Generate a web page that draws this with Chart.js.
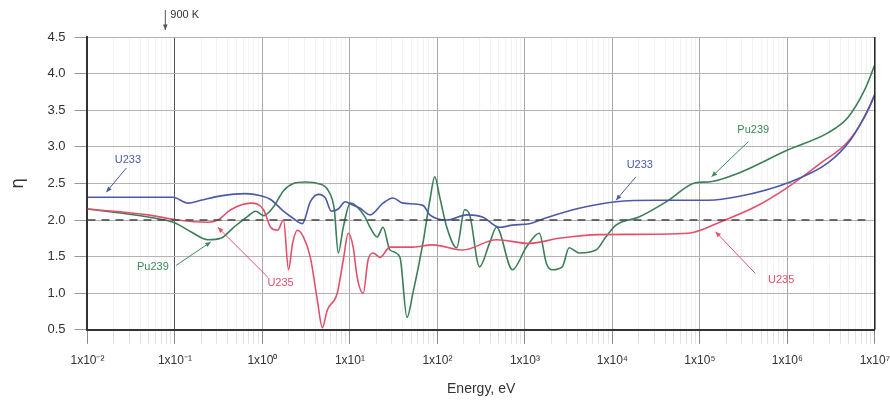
<!DOCTYPE html>
<html>
<head>
<meta charset="utf-8">
<script src="https://cdn.jsdelivr.net/npm/chart.js@4.4.0/dist/chart.umd.min.js"></script>
<style>
  html, body { margin: 0; padding: 0; background: #fff; overflow: hidden; }
  #wrap { width: 900px; height: 400px; }
</style>
</head>
<body>
<div id="wrap"><canvas id="etaChart"></canvas></div>
<script>
// energy axis, decades and their labels
var decadeTicks = [1e-2, 1e-1, 1e0, 1e1, 1e2, 1e3, 1e4, 1e5, 1e6, 1e7];
var decadeLabels = ["1x10⁻²", "1x10⁻¹", "1x10⁰", "1x10¹", "1x10²", "1x10³", "1x10⁴", "1x10⁵", "1x10⁶", "1x10⁷"];
var etaTicks = [0.5, 1.0, 1.5, 2.0, 2.5, 3.0, 3.5, 4.0, 4.5];

// U233 (blue)
var u233Energy = [0.01, 0.095, 0.141, 0.198, 0.334, 0.644, 0.955, 1.24, 1.74, 2.26, 2.86, 3.53, 4.36, 5.24, 6.12, 7.36, 8.85, 10.1, 13.1, 17.0, 23.9, 31.1, 40.4, 68.2, 82, 128, 216, 328, 513, 721, 1125, 1758, 4169, 11000, 33900, 125600, 275000, 1.02e6, 2.91e6, 5.32e6, 8.3e6, 1e7];
var u233Eta = [2.31, 2.31, 2.23, 2.27, 2.33, 2.36, 2.33, 2.28, 2.12, 2.02, 1.95, 2.25, 2.35, 2.30, 2.12, 2.15, 2.25, 2.22, 2.16, 2.07, 2.23, 2.30, 2.23, 2.20, 2.07, 2.00, 2.07, 2.04, 1.90, 1.93, 1.95, 2.03, 2.16, 2.25, 2.27, 2.27, 2.32, 2.51, 2.78, 3.10, 3.50, 3.72];

// U235 (red)
var u235Energy = [0.01, 0.0494, 0.108, 0.238, 0.309, 0.434, 0.735, 1.03, 1.24, 1.49, 1.74, 1.99, 2.21, 2.51, 2.94, 3.53, 4.25, 4.84, 5.52, 7.16, 8.39, 9.57, 10.9, 12.1, 14.2, 16.1, 18.4, 22.1, 28.7, 52.5, 88.7, 195, 474, 1125, 2466, 7047, 74300, 176600, 430000, 1.02e6, 2.43e6, 4.92e6, 7.67e6, 1e7];
var u235Eta = [2.15, 2.07, 2.00, 1.97, 2.00, 2.14, 2.23, 2.14, 1.90, 1.86, 2.00, 1.32, 1.68, 1.86, 1.77, 1.49, 0.90, 0.53, 0.77, 1.00, 1.45, 1.82, 1.63, 1.22, 1.00, 1.45, 1.55, 1.49, 1.63, 1.63, 1.66, 1.59, 1.73, 1.68, 1.75, 1.80, 1.82, 1.98, 2.18, 2.45, 2.78, 3.07, 3.41, 3.70];

// Pu239 (green)
var pu239Energy = [0.01, 0.0494, 0.1, 0.152, 0.238, 0.334, 0.47, 0.679, 0.838, 1.03, 1.34, 1.74, 2.26, 3.10, 4.25, 5.66, 6.62, 7.36, 8.39, 10.1, 12.1, 14.9, 17.0, 20.5, 23.9, 28.7, 37.3, 44.9, 52.5, 68.2, 82, 93.4, 106, 128, 166, 205, 234, 303, 394, 474, 721, 1040, 1462, 1758, 2056, 2673, 3206, 4169, 6505, 8453, 11000, 20100, 44000, 89300, 125600, 275000, 1.02e6, 2.91e6, 4.92e6, 7.67e6, 1e7];
var pu239Eta = [2.15, 2.04, 1.96, 1.84, 1.73, 1.75, 1.90, 2.05, 2.12, 2.06, 2.18, 2.40, 2.50, 2.52, 2.50, 2.40, 2.15, 1.55, 1.90, 2.23, 2.18, 2.04, 1.90, 1.77, 1.90, 1.59, 1.49, 0.67, 1.00, 1.68, 2.27, 2.59, 2.32, 1.90, 1.62, 2.14, 2.07, 1.36, 1.68, 1.90, 1.32, 1.63, 1.82, 1.41, 1.32, 1.36, 1.62, 1.55, 1.59, 1.77, 1.93, 2.04, 2.27, 2.51, 2.52, 2.64, 2.96, 3.19, 3.40, 3.78, 4.12];

// eta = 2 reference line
var refEnergy = [0.01, 8.5e6];
var refEta = [2.0, 2.0];

// labels with arrows: text, label point, arrow start, arrow tip (energy, eta)
var noteText = ["U233", "Pu239", "U235", "U233", "Pu239", "U235"];
var noteAt = [[0.029, 2.82], [0.056, 1.36], [1.61, 1.14], [20600, 2.75], [4.08e5, 3.23], [8.5e5, 1.18]];
var noteFrom = [[0.0278, 2.71], [0.103, 1.38], [1.15, 1.22], [18600, 2.59], [3.58e5, 3.07], [4.3e5, 1.27]];
var noteTo = [[0.0164, 2.38], [0.257, 1.70], [0.309, 1.90], [11000, 2.27], [1.36e5, 2.59], [1.51e5, 1.84]];
var noteColor = ["#4b5aa8", "#3b8a5a", "#e4506c", "#4b5aa8", "#3b8a5a", "#e4506c"];

var kT900 = 0.0776;  // 900 K

var blue = "#4b5aa8", red = "#e4506c", green = "#3b7f58";

function toPoints(xs, ys) {
    return xs.map(function (x, i) { return {x: x, y: ys[i]}; });
}

function isDecade(v) {
    var l = Math.log10(v);
    return Math.abs(l - Math.round(l)) < 1e-6;
}

function drawArrow(ctx, x1, y1, x2, y2, color) {
    ctx.strokeStyle = color;
    ctx.fillStyle = color;
    ctx.lineWidth = 1;
    ctx.beginPath();
    ctx.moveTo(x1, y1);
    ctx.lineTo(x2, y2);
    ctx.stroke();
    var a = Math.atan2(y2 - y1, x2 - x1);
    ctx.beginPath();
    ctx.moveTo(x2, y2);
    ctx.lineTo(x2 - 6 * Math.cos(a - 0.4), y2 - 6 * Math.sin(a - 0.4));
    ctx.lineTo(x2 - 6 * Math.cos(a + 0.4), y2 - 6 * Math.sin(a + 0.4));
    ctx.closePath();
    ctx.fill();
}

var notesPlugin = {
    id: 'notes',
    afterDatasetsDraw: function (chart) {
        var ctx = chart.ctx, xs = chart.scales.x, ys = chart.scales.y, area = chart.chartArea;
        ctx.save();
        // right frame
        ctx.strokeStyle = '#222';
        ctx.lineWidth = 1.5;
        ctx.beginPath();
        ctx.moveTo(area.right, area.top);
        ctx.lineTo(area.right, area.bottom);
        ctx.stroke();

        ctx.font = '11px "Liberation Sans", Arial, sans-serif';
        ctx.textAlign = 'center';
        ctx.textBaseline = 'middle';
        for (var i = 0; i < noteText.length; i++) {
            drawArrow(ctx,
                xs.getPixelForValue(noteFrom[i][0]), ys.getPixelForValue(noteFrom[i][1]),
                xs.getPixelForValue(noteTo[i][0]), ys.getPixelForValue(noteTo[i][1]),
                noteColor[i]);
            ctx.fillStyle = noteColor[i];
            ctx.fillText(noteText[i], xs.getPixelForValue(noteAt[i][0]), ys.getPixelForValue(noteAt[i][1]));
        }

        // 900 K marker above the plot
        var kx = xs.getPixelForValue(kT900);
        drawArrow(ctx, kx, area.top - 27, kx, area.top - 7, '#555');
        ctx.fillStyle = '#333';
        ctx.textAlign = 'left';
        ctx.fillText('900 K', kx + 5, area.top - 22);
        ctx.restore();
    }
};

var ctx = document.getElementById("etaChart").getContext("2d");
new Chart(ctx, {
    type: 'line',
    data: {
        datasets: [
            {
                label: 'eta = 2',
                data: toPoints(refEnergy, refEta),
                borderColor: '#444',
                borderWidth: 1.5,
                borderDash: [8, 6],
                pointRadius: 0
            },
            {
                label: 'U233',
                data: toPoints(u233Energy, u233Eta),
                borderColor: blue,
                borderWidth: 1.6,
                pointRadius: 0,
                cubicInterpolationMode: 'monotone'
            },
            {
                label: 'U235',
                data: toPoints(u235Energy, u235Eta),
                borderColor: red,
                borderWidth: 1.6,
                pointRadius: 0,
                cubicInterpolationMode: 'monotone'
            },
            {
                label: 'Pu239',
                data: toPoints(pu239Energy, pu239Eta),
                borderColor: green,
                borderWidth: 1.6,
                pointRadius: 0,
                cubicInterpolationMode: 'monotone'
            }
        ]
    },
    options: {
        responsive: true,
        maintainAspectRatio: false,
        animation: false,
        layout: {padding: {top: 37, right: 6, bottom: 0, left: 6}},
        plugins: {
            legend: {display: false},
            tooltip: {enabled: false}
        },
        scales: {
            x: {
                type: 'logarithmic',
                min: 1e-2,
                max: 1e7,
                afterBuildTicks: function (scale) {
                    var t = [];
                    for (var d = 0; d < decadeTicks.length; d++) {
                        t.push({value: decadeTicks[d]});
                        if (d < decadeTicks.length - 1) {
                            for (var m = 2; m <= 9; m++) t.push({value: decadeTicks[d] * m});
                        }
                    }
                    scale.ticks = t;
                },
                ticks: {
                    autoSkip: false,
                    maxRotation: 0,
                    padding: 10,
                    color: '#333',
                    font: {family: '"Liberation Sans", Arial, sans-serif', size: 12},
                    callback: function (v) {
                        var i = decadeTicks.findIndex(function (d) { return Math.abs(d - v) / d < 1e-6; });
                        return i >= 0 ? decadeLabels[i] : '';
                    }
                },
                grid: {
                    tickLength: 14,
                    color: function (c) {
                        var v = c.tick ? c.tick.value : 0;
                        if (Math.abs(v - 0.1) < 1e-9) return '#555';
                        return isDecade(v) ? '#a8a8a8' : '#f3f3f3';
                    },
                    tickColor: function (c) {
                        var v = c.tick ? c.tick.value : 0;
                        return isDecade(v) ? '#888' : '#e2e2e2';
                    }
                },
                border: {color: '#333', width: 2},
                title: {
                    display: true,
                    text: 'Energy, eV',
                    color: '#333',
                    font: {family: '"Liberation Sans", Arial, sans-serif', size: 14},
                    padding: {top: 3, bottom: 2}
                }
            },
            y: {
                type: 'linear',
                min: 0.5,
                max: 4.5,
                afterBuildTicks: function (scale) {
                    scale.ticks = etaTicks.map(function (v) { return {value: v}; });
                },
                ticks: {
                    padding: 9,
                    color: '#333',
                    font: {family: '"Liberation Sans", Arial, sans-serif', size: 13},
                    callback: function (v) { return v.toFixed(1); }
                },
                grid: {
                    tickLength: 13,
                    color: '#b4b4b4',
                    tickColor: '#999'
                },
                border: {color: '#333', width: 2},
                title: {
                    display: true,
                    text: 'η',
                    color: '#333',
                    font: {family: '"DejaVu Sans", sans-serif', size: 17},
                    padding: {top: 2, bottom: 10}
                }
            }
        }
    },
    plugins: [notesPlugin]
});
</script>
</body>
</html>
